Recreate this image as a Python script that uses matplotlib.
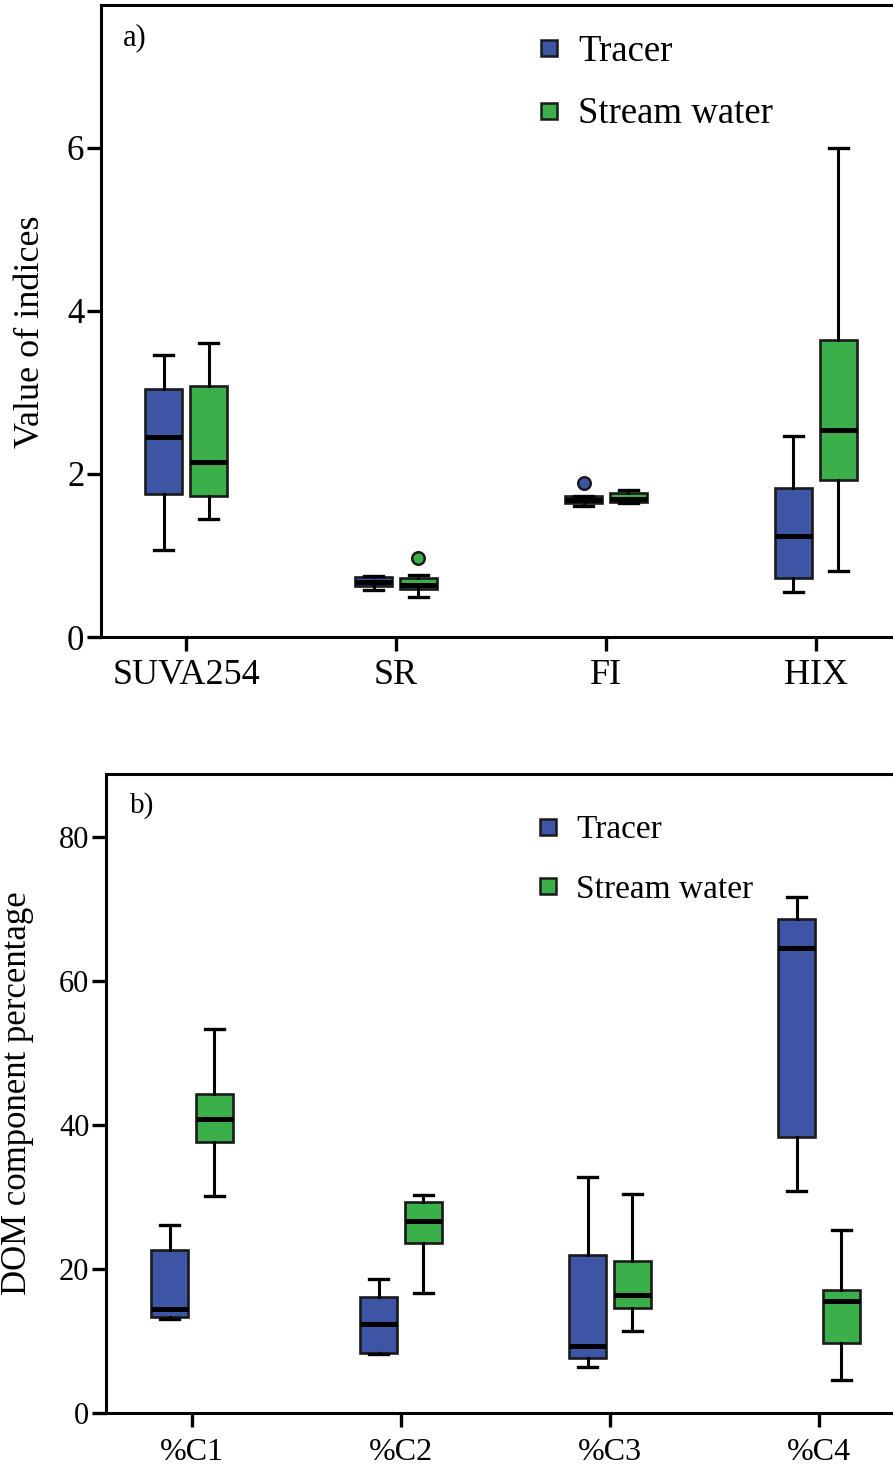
import numpy as np
import matplotlib
matplotlib.use("Agg")
import matplotlib.pyplot as plt
from matplotlib.lines import Line2D

plt.rcParams['font.family'] = ['Liberation Serif', 'DejaVu Serif']

# ---- panel a: optical indices ----
idx_labels = ["SUVA254", "SR", "FI", "HIX"]
idx_tracer_whislo = [1.07, 0.58, 1.61, 0.55]
idx_tracer_q1 = [1.75, 0.63, 1.64, 0.72]
idx_tracer_med = [2.45, 0.68, 1.68, 1.24]
idx_tracer_q3 = [3.04, 0.74, 1.73, 1.83]
idx_tracer_whishi = [3.46, 0.75, 1.73, 2.46]
idx_tracer_fliers = [[], [], [1.89], []]

idx_stream_whislo = [1.45, 0.49, 1.64, 0.81]
idx_stream_q1 = [1.73, 0.59, 1.65, 1.93]
idx_stream_med = [2.15, 0.64, 1.69, 2.54]
idx_stream_q3 = [3.08, 0.72, 1.77, 3.64]
idx_stream_whishi = [3.60, 0.76, 1.80, 6.00]
idx_stream_fliers = [[], [0.97], [], []]

# ---- panel b: PARAFAC component percentages ----
comp_labels = ["%C1", "%C2", "%C3", "%C4"]
comp_tracer_whislo = [13.1, 8.2, 6.4, 30.8]
comp_tracer_q1 = [13.4, 8.3, 7.7, 38.3]
comp_tracer_med = [14.4, 12.4, 9.3, 64.6]
comp_tracer_q3 = [22.6, 16.1, 21.9, 68.6]
comp_tracer_whishi = [26.1, 18.6, 32.8, 71.7]

comp_stream_whislo = [30.1, 16.7, 11.4, 4.6]
comp_stream_q1 = [37.7, 23.6, 14.6, 9.7]
comp_stream_med = [40.8, 26.7, 16.4, 15.6]
comp_stream_q3 = [44.3, 29.3, 21.1, 17.1]
comp_stream_whishi = [53.3, 30.3, 30.4, 25.4]

BLUE = "#3D55A4"
GREEN = "#3AAF4A"


def make_stats(whislo, q1, med, q3, whishi, fliers=None):
    if fliers is None:
        fliers = [[] for _ in med]
    return [dict(whislo=a, q1=b, med=c, q3=d, whishi=e, fliers=f)
            for a, b, c, d, e, f in zip(whislo, q1, med, q3, whishi, fliers)]


def draw_boxes(ax, stats, positions, color):
    ax.bxp(stats, positions=positions, widths=0.176, capwidths=0.09,
           patch_artist=True, showfliers=True,
           boxprops=dict(facecolor=color, edgecolor="#1a1a1a", linewidth=1.9),
           medianprops=dict(color="black", linewidth=3.6, solid_capstyle="butt"),
           whiskerprops=dict(color="black", linewidth=2.2),
           capprops=dict(color="black", linewidth=2.4),
           flierprops=dict(marker="o", markersize=9, markerfacecolor=color,
                           markeredgecolor="#1a1a1a", markeredgewidth=1.8))


def style_axes(ax, xticklabels, xfs, yfs):
    ax.spines["right"].set_visible(False)
    for s in ("left", "top", "bottom"):
        ax.spines[s].set_linewidth(2.2)
    ax.set_xticks(np.arange(4))
    ax.set_xticklabels(xticklabels, fontsize=xfs)
    ax.tick_params(axis="both", direction="out", length=10, width=2.4)
    ax.tick_params(axis="y", labelsize=yfs, pad=2)
    ax.tick_params(axis="x", pad=6)


def add_legend(ax, fs, anchor, spacing, hl, htp):
    handles = [Line2D([], [], linestyle="none", marker="s", markersize=12,
                      markerfacecolor=c, markeredgecolor="#1a1a1a",
                      markeredgewidth=1.8) for c in (BLUE, GREEN)]
    ax.legend(handles, ["Tracer", "Stream water"], loc="upper left",
              bbox_to_anchor=anchor, frameon=False, fontsize=fs,
              handlelength=hl, handletextpad=htp, labelspacing=spacing,
              borderpad=0, borderaxespad=0)


fig = plt.figure(figsize=(8.93, 14.7), dpi=100)
off = 0.107

# panel a
ax1 = fig.add_axes([101 / 893, 1 - 637 / 1470, 792 / 893, 632 / 1470])
x = np.arange(4)
draw_boxes(ax1, make_stats(idx_tracer_whislo, idx_tracer_q1, idx_tracer_med,
                           idx_tracer_q3, idx_tracer_whishi, idx_tracer_fliers),
           x - off, BLUE)
draw_boxes(ax1, make_stats(idx_stream_whislo, idx_stream_q1, idx_stream_med,
                           idx_stream_q3, idx_stream_whishi, idx_stream_fliers),
           x + off, GREEN)
ax1.set_xlim(-0.405, 3.367)
ax1.set_ylim(0, 7.75)
ax1.set_yticks([0, 2, 4, 6])
style_axes(ax1, idx_labels, 26, 25)
ax1.set_ylabel("Value of indices", fontsize=26)
ax1.yaxis.set_label_coords(-0.068, 0.483)
ax1.text(0.027, 0.948, "a)", transform=ax1.transAxes, fontsize=22,
         va="center", ha="left")
add_legend(ax1, 26.5, (0.547, 0.954), 0.77, 0.8, 0.39)

# panel b
ax2 = fig.add_axes([106 / 893, 1 - 1413 / 1470, 787 / 893, 639 / 1470])
draw_boxes(ax2, make_stats(comp_tracer_whislo, comp_tracer_q1, comp_tracer_med,
                           comp_tracer_q3, comp_tracer_whishi), x - off, BLUE)
draw_boxes(ax2, make_stats(comp_stream_whislo, comp_stream_q1, comp_stream_med,
                           comp_stream_q3, comp_stream_whishi), x + off, GREEN)
ax2.set_xlim(-0.411, 3.354)
ax2.set_ylim(0, 88.75)
ax2.set_yticks([0, 20, 40, 60, 80])
style_axes(ax2, comp_labels, 23, 22)
ax2.tick_params(axis="x", pad=8)
ax2.set_ylabel("DOM component percentage", fontsize=25)
ax2.yaxis.set_label_coords(-0.091, 0.5)
ax2.text(0.030, 0.951, "b)", transform=ax2.transAxes, fontsize=21,
         va="center", ha="left")
add_legend(ax2, 24, (0.545, 0.936), 0.87, 0.8, 0.44)

fig.savefig("out.png", dpi=100)
